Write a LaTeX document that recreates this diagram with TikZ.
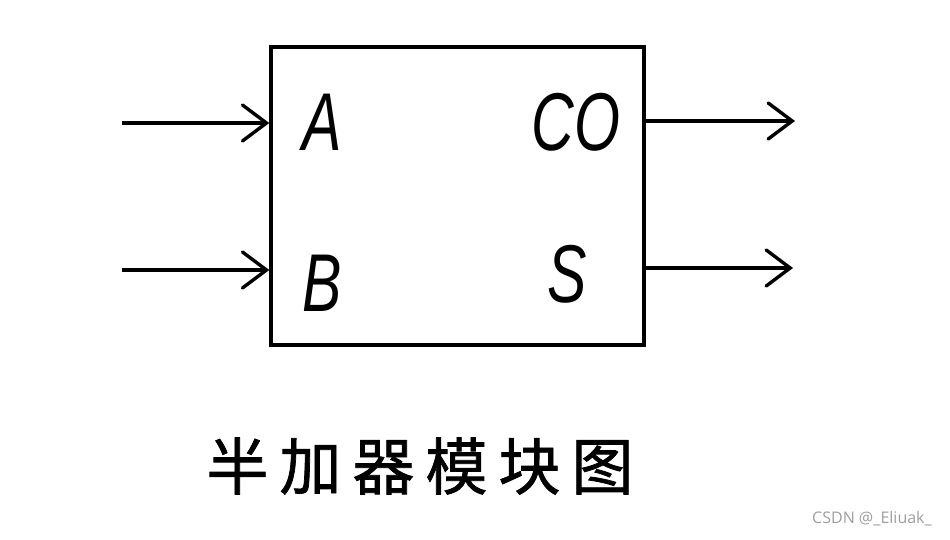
\documentclass[tikz,border=0pt]{standalone}
\usepackage{fontspec}
\setmainfont{Liberation Sans}
\newfontfamily\cjk[FakeBold=1.2]{Noto Sans CJK SC}
\newfontfamily\wmfont{Open Sans}
\usetikzlibrary{arrows.meta}
\begin{document}
\begin{tikzpicture}[x=1pt,y=-1pt,
  wire/.style={line width=3.4pt,-{Straight Barb[length=24pt,width=36pt,line cap=round]}},
  port/.style={font=\fontsize{82}{82}\selectfont\itshape, inner sep=0pt, xscale=0.72},
  boxstyle/.style={draw, line width=3.4pt, minimum width=373pt, minimum height=298pt, inner sep=0pt}]
\path[use as bounding box, fill=white] (0,0) rectangle (950,539);
\node[boxstyle] (box) at (457.5,196) {};
\coordinate (a0) at (122,123);
\coordinate (b0) at (122,270);
\coordinate (co1) at (795,121);
\coordinate (s1) at (793,268);
\draw[wire] (a0) -- (box.west |- a0);
\draw[wire] (b0) -- (box.west |- b0);
\draw[wire] (box.east |- co1) -- (co1);
\draw[wire] (box.east |- s1) -- (s1);
\node[port] (lA) at (322,122) {A};
\node[port] (lB) at (322,283) {B};
\node[port] (lCO) at (576,122) {CO};
\node[port] (lS) at (567,274) {S};
\node[font=\cjk\fontsize{62}{62}\selectfont, inner sep=0pt] (title) at (420,466)
  {半\hspace{11pt}加\hspace{11pt}器\hspace{11pt}模\hspace{11pt}块\hspace{11pt}图};
\node[font=\wmfont\fontsize{16}{16}\selectfont, text=gray!75, inner sep=0pt] (wm) at (872,519) {CSDN @\_Eliuak\_};
\end{tikzpicture}
\end{document}
